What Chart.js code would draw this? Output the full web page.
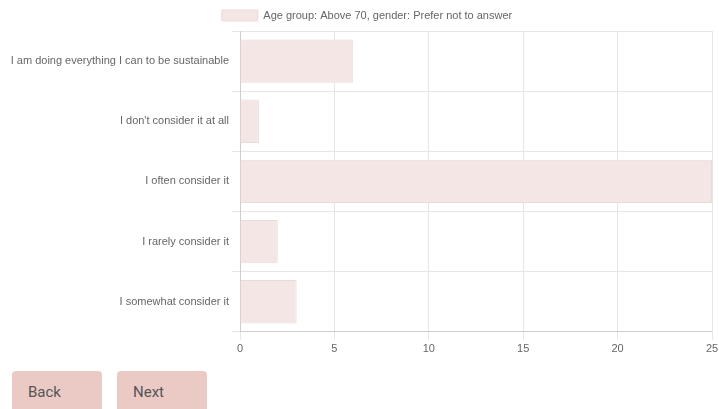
<!DOCTYPE html>
<html>
<head>
<meta charset="utf-8">
<script src="https://cdn.jsdelivr.net/npm/chart.js@4"></script>
<style>
  body { margin: 0; background: #fff; overflow: hidden; font-family: Roboto, "Liberation Sans", sans-serif; }
  .chart-wrap { position: relative; width: 735px; height: 359px; }
  .nav { padding: 12px 0 0 12px; }
  .nav button {
    width: 90px; height: 42px; margin-right: 15px;
    background: #ebcac5; border: none; border-radius: 4px;
    color: #555; font-family: Roboto, sans-serif; font-size: 15px;
    text-align: left; padding-left: 16px;
  }
</style>
</head>
<body>
<div class="chart-wrap"><canvas id="grafico"></canvas></div>
<div class="nav"><button>Back</button><button>Next</button></div>
<script>
var respuestas = [
    "I am doing everything I can to be sustainable",
    "I don't consider it at all",
    "I often consider it",
    "I rarely consider it",
    "I somewhat consider it"
];
var cantidades = [6, 1, 25, 2, 3];
var serie_label = "Age group: Above 70, gender: Prefer not to answer";
var fuente = "'Liberation Sans', Arial, sans-serif";

// nudge the legend a little to the right
var mover_leyenda = {
    id: 'mover_leyenda',
    afterLayout: function (chart) {
        chart.legend.left += 6;
        chart.legend.right += 6;
    }
};

var ctx = document.getElementById('grafico').getContext('2d');
var chart_respuestas = new Chart(ctx, {
    type: 'bar',
    data: {
        labels: respuestas,
        datasets: [{
            label: serie_label,
            data: cantidades,
            backgroundColor: "#f3e6e5",
            borderColor: "#ecdad8",
            borderWidth: 1
        }]
    },
    options: {
        indexAxis: 'y',
        responsive: true,
        maintainAspectRatio: false,
        animation: false,
        layout: { padding: { left: 10, right: 23 } },
        plugins: {
            legend: {
                labels: {
                    boxWidth: 36,
                    color: "#666",
                    font: { family: fuente, size: 11 }
                }
            },
            tooltip: { enabled: false }
        },
        scales: {
            x: {
                min: 0,
                max: 25,
                ticks: { stepSize: 5, color: "#666", font: { family: fuente, size: 11 } },
                grid: { color: "#e6e6e6" }
            },
            y: {
                afterFit: function (scale) { scale.width = 230; },
                ticks: { color: "#666", font: { family: fuente, size: 11 } },
                grid: { color: "#e6e6e6" }
            }
        }
    },
    plugins: [mover_leyenda]
});
</script>
</body>
</html>
